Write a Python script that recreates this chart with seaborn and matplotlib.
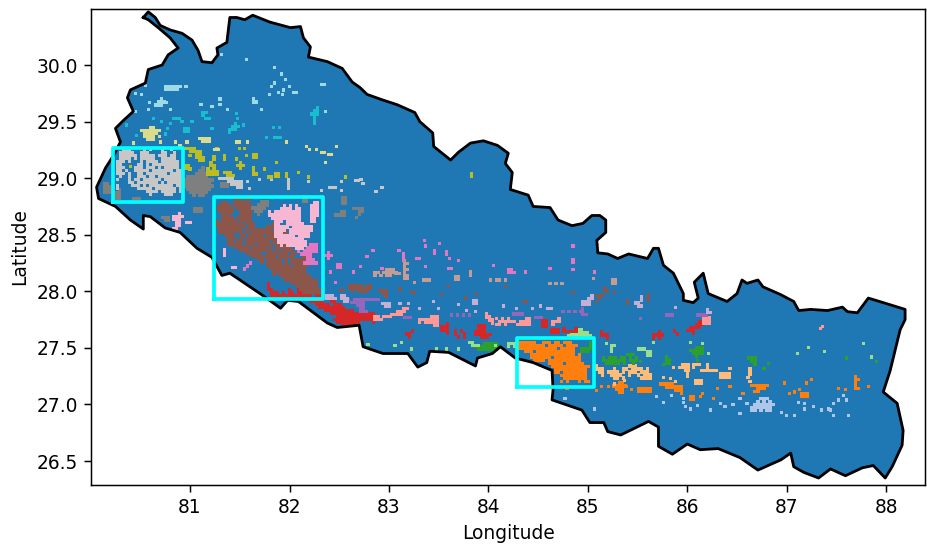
import matplotlib
matplotlib.use('Agg')
import pandas as pd
import matplotlib.pyplot as plt
import seaborn as sns

border_lon = [80.53, 80.58, 80.65, 80.70, 80.80, 80.92, 81.02, 81.08, 81.12, 81.22, 81.28, 81.27, 81.37, 81.40, 81.47,
              81.55, 81.63, 81.80, 82.01, 82.11, 82.14, 82.21, 82.19, 82.38, 82.53, 82.63, 82.71, 82.78, 82.94, 83.08,
              83.26, 83.31, 83.44, 83.45, 83.62, 83.70, 83.82, 83.95, 84.09, 84.20, 84.17, 84.24, 84.22, 84.40, 84.45,
              84.62, 84.70, 84.84, 84.95, 85.04, 85.12, 85.18, 85.18, 85.09, 85.10, 85.20, 85.30, 85.41, 85.60, 85.66,
              85.71, 85.76, 85.86, 85.96, 85.96, 86.06, 86.11, 86.07, 86.16, 86.21, 86.40, 86.50, 86.55, 86.60, 86.71,
              86.76, 86.94, 87.07, 87.12, 87.24, 87.41, 87.56, 87.61, 87.71, 87.82, 87.97, 88.19, 88.19, 88.14, 88.04,
              87.97, 88.11, 88.17, 88.16, 88.06, 87.99, 87.87, 87.76, 87.59, 87.44, 87.32, 87.17, 87.07, 87.04, 86.94,
              86.71, 86.53, 86.31, 86.13, 86.00, 85.85, 85.71, 85.71, 85.61, 85.33, 85.20, 85.16, 85.02, 84.94, 84.64,
              84.65, 84.64, 84.45, 84.27, 84.12, 84.04, 83.89, 83.87, 83.60, 83.41, 83.38, 83.29, 83.19, 82.94, 82.74,
              82.70, 82.48, 82.38, 82.09, 81.98, 81.91, 81.72, 81.45, 81.40, 81.32, 81.22, 81.07, 80.90, 80.75, 80.60,
              80.53, 80.53, 80.40, 80.25, 80.08, 80.06, 80.15, 80.23, 80.30, 80.25, 80.33, 80.43, 80.37, 80.40, 80.55,
              80.58, 80.72, 80.78, 80.88, 80.80, 80.68, 80.58, 80.53]
border_lat = [30.42, 30.47, 30.42, 30.35, 30.31, 30.28, 30.22, 30.13, 30.03, 30.02, 30.09, 30.15, 30.20, 30.42, 30.42,
              30.40, 30.44, 30.38, 30.33, 30.34, 30.24, 30.16, 30.07, 30.03, 29.97, 29.85, 29.80, 29.74, 29.69, 29.65,
              29.58, 29.50, 29.40, 29.28, 29.16, 29.23, 29.31, 29.33, 29.29, 29.22, 29.13, 29.05, 28.90, 28.85, 28.75,
              28.74, 28.63, 28.58, 28.60, 28.67, 28.67, 28.63, 28.52, 28.45, 28.34, 28.33, 28.29, 28.33, 28.29, 28.38,
              28.38, 28.23, 28.16, 27.98, 27.92, 27.90, 27.94, 28.08, 28.16, 27.98, 27.91, 27.98, 28.10, 28.07, 28.10,
              28.04, 27.97, 27.91, 27.83, 27.84, 27.83, 27.86, 27.82, 27.81, 27.94, 27.90, 27.84, 27.75, 27.66, 27.30,
              27.11, 27.01, 26.77, 26.64, 26.45, 26.35, 26.46, 26.44, 26.37, 26.43, 26.35, 26.40, 26.45, 26.57, 26.51,
              26.42, 26.53, 26.61, 26.60, 26.65, 26.56, 26.63, 26.80, 26.85, 26.73, 26.76, 26.84, 26.84, 26.95, 27.04,
              27.13, 27.30, 27.37, 27.41, 27.51, 27.45, 27.41, 27.34, 27.46, 27.47, 27.37, 27.33, 27.45, 27.45, 27.51,
              27.70, 27.68, 27.72, 27.91, 27.92, 27.85, 27.97, 28.13, 28.16, 28.14, 28.30, 28.38, 28.52, 28.56, 28.66,
              28.67, 28.55, 28.63, 28.75, 28.82, 28.92, 29.09, 29.20, 29.32, 29.44, 29.51, 29.59, 29.71, 29.78, 29.84,
              29.96, 30.00, 30.09, 30.15, 30.24, 30.33, 30.40, 30.42]

# Boxes: lon left, lon right, lat bottom, lat top
boxes = [(80.23, 80.93, 28.79, 29.27), (81.24, 82.34, 27.93, 28.83), (84.29, 85.06, 27.15, 27.59)]

# Cell patches: (lon of first column, lat of first row, rows of the raster)
silver_main = [(80.27, 29.25, [
    "..###....#.#...#..#...",
    ".#####..###....##..#..",
    ".######.#####.###.##..",
    ".####.#.#####..#####..",
    "###.#...#.####.######.",
    "##.....##.#.#########.",
    "###...###.###.#.#####.",
    "##.#..#####.#######.##",
    "###.#..##.#######.####",
    ".#..#..###.##.########",
    "#...#.##.######.######",
    "....##.#######.#.#####",
    "#....###.#.########.##",
    "#......#####.#######.#",
    "..........####.#####.#",
    "...........#....###...",
]), (81.30, 29.00, ["#####...", "...#####", "....####", "......##"]),
    (81.99, 28.99, ["#", "#", "#", "#"]), (82.40, 28.92, ["###"]), (82.66, 28.98, ["##"])]
silver_cells = [(81.70, 28.99), (81.58, 28.97), (81.60, 28.91), (81.82, 28.99), (82.19, 28.97), (82.32, 28.89),
                (82.72, 28.99), (82.93, 28.92), (82.87, 28.88), (82.52, 28.97), (82.52, 28.89), (82.74, 28.95)]

gray_main = [(80.95, 29.09, [
    "......#...",
    ".....##.#.",
    "....####..",
    ".#######..",
    "##########",
    "#########.",
    "##########",
    ".########.",
    "..######..",
    "...#.##...",
]), (81.63, 28.79, ["...###", "..####", "#####.", ".###..", "..#..."]),
    (82.46, 28.70, ["..##", "####"]), (82.64, 28.73, ["####", "..##", "..#.", ".#.."]),
    (82.53, 28.83, ["##", "##", "##"]), (80.14, 28.95, ["##", "###", "###.", "####"]),
    (80.26, 28.90, [".#", "##", "##", "##"]), (80.43, 28.82, ["###", "#.."]), (81.32, 28.95, ["###", "###"]),
    (81.05, 28.73, ["###", "###"]), (80.72, 28.65, ["###", ".##"]), (82.14, 28.82, ["##", "##"])]

brown_main = [(81.27, 28.81, [
    "......###.##.......................",
    "..##..#####........................",
    ".####.######.......................",
    "######.#####.......................",
    ".#####..####.......................",
    "..###...####.......................",
    "..####.#####.......................",
    "#.#####.####.......................",
    "#########.###......##..............",
    "##########.##....#####.............",
    ".########.#########.###............",
    ".######.#.#.#########.##...........",
    "...###..##.#####.#######...........",
    "....###.#.###########.###..........",
    "....##.##.########.######..........",
    "....#####.###.#####.#####..........",
    "......#####.#####.#.#####..........",
    "........###########.#.####.........",
    "..........#####..#######.##........",
    "............########.#####...##....",
    "..............##.#####.#.#####.....",
    "...............#.#####.#.######....",
    ".................########.#####....",
    "..................############.....",
    "...................###########.....",
    "...................#.##########....",
    "......................##########...",
    ".......................###########.",
    ".........................#########.",
    "...........................#######.",
    "............................#######",
    ".............................######",
]), (82.60, 28.05, ["#####.##", "########", ".#.####."]), (82.91, 28.01, ["###", ".##", "..#"]),
    (82.51, 28.01, ["##"]), (83.23, 27.99, ["##"]), (84.35, 27.91, ["##"]), (85.09, 27.96, ["###", ".#.", "#.."]),
    (85.61, 27.97, ["#", "#", "#"]), (85.40, 27.92, ["#", "#"]), (85.17, 28.03, ["#", "##"])]
brown_cells = [(83.53, 27.97), (83.60, 28.05), (83.77, 27.94), (83.88, 27.98), (84.17, 28.04), (84.85, 27.99),
               (85.27, 27.99), (83.11, 28.02)]

pink_main = [(81.80, 28.78, [
    "...............##",
    ".....#.#.#....###",
    "....####.##...###",
    "#.#########...###",
    "###########...###",
    ".##########...##.",
    "..###.#####...##.",
    "..##..######.....",
    "..#####.#######..",
    "..####.########..",
    "..###..#######...",
    "..#######.####...",
    "...#########.....",
    "...##########....",
    "....#.#######....",
    ".........###.....",
]), (80.83, 28.69, ["..#.", "####", "###.", ".##.", ".##.", "##.."]), (80.97, 28.61, ["##"]),
    (81.35, 28.37, ["#", "#", "#"]), (81.43, 28.21, ["##"])]

magenta_main = [(82.09, 28.41, [
    "....###",
    "...####",
    "#.#####",
    ".####..",
    "...##..",
    "...###.",
    "..#####",
]), (81.55, 28.25, ["..#", ".#.", "#.."]), (82.36, 28.34, [".#.", "###", ".#."]), (82.48, 28.24, ["##", "##"]),
    (83.15, 28.33, ["#", "#", "#"]), (84.20, 28.19, ["##", "###"]), (83.58, 28.35, ["#", "#"]),
    (83.46, 28.36, ["#", "#"]), (83.28, 28.29, ["##"]), (83.60, 28.20, ["##"]), (84.85, 28.28, ["#", "#"])]
magenta_cells = [(83.37, 28.40), (83.51, 28.42), (83.36, 28.45), (82.71, 28.22), (82.78, 28.31), (82.84, 28.36),
                 (83.10, 28.36), (83.37, 28.22), (83.70, 28.27), (83.61, 28.29), (84.05, 28.23), (84.85, 28.40),
                 (84.85, 28.19), (85.07, 28.17), (84.62, 28.20), (84.37, 28.17), (82.41, 28.17), (82.64, 28.17),
                 (82.46, 28.08), (82.93, 28.20)]

red_main = [(81.79, 28.07, [
    "#...................................",
    "#...................................",
    "##.....#..#.........................",
    ".###.#.##.###.###...................",
    ".##############.##..................",
    "....................................",
    "..............#####..##.............",
    "................#####.###...........",
    ".................#########..........",
    "...................##########.......",
    ".....................###############",
    ".......................#############",
    "......................##############",
    ".......................########....#",
    ".........................####.......",
]), (83.18, 27.65, ["..#", "##.", ".#."]), (83.53, 27.71, ["..#", "###", "###", "..#"]),
    (83.67, 27.65, ["#.#.", "#..#", ".#.#"]), (83.87, 27.70, [".###..", ".###..", "####..", "######", "..###."]),
    (84.55, 27.74, ["##", "##", "##"]), (84.64, 27.66, ["###", "###"]), (84.76, 27.67, ["#...#", "#####"]),
    (85.14, 27.64, ["#..", "###", "..#"]), (85.66, 27.64, ["..#.", "####", "#.#."]), (85.87, 27.65, ["#.", ".#"]),
    (86.00, 27.73, ["....##", "...###", ".####.", "###...", "..#..."])]

orange_main = [(84.31, 27.55, [
    "######..###.##.###......",
    "#########.#####.####....",
    "#############.#####.....",
    "..###.#############.....",
    "....###############.#...",
    "....#######.#########...",
    ".....####.###########...",
    "..........#####.######..",
    "...........#############",
    "............###########.",
    "............##.########.",
    "..............#########.",
    "...............########.",
    "..............#.#...#.##",
]), (85.26, 27.19, ["..##.", "#####", ".###.", "..##."]), (85.51, 27.14, ["#####", "#####"]),
    (85.73, 27.18, ["#####...", "..######", ".....###", ".......#"]), (86.65, 27.17, ["######", "..###.", ".##..."]),
    (87.15, 27.10, ["###", "###"]), (87.69, 27.25, ["#.", "##", "#.", "#.", "##"]), (86.03, 27.07, ["##", "##"])]
orange_cells = [(85.09, 27.12), (85.14, 27.16), (85.21, 27.16), (85.39, 27.16), (85.44, 27.13), (86.13, 27.07),
                (86.15, 27.10), (86.26, 27.05), (86.30, 27.14), (86.43, 27.16), (86.56, 27.10), (86.98, 27.19),
                (87.03, 27.10), (87.08, 27.11), (87.13, 27.13), (87.52, 27.14), (87.59, 27.13), (87.82, 27.16),
                (87.25, 27.22), (87.20, 27.19), (84.79, 27.14)]

peach_main = [(85.09, 27.34, [
    "#..........###......",
    "###...#..##.####.#..",
    ".##.####.#.###.###..",
    "..#..####..#..#.###.",
    "......##.#.....####.",
]), (85.86, 27.35, ["...###", "#.####", "....##"]), (86.00, 27.30, ["#", "#", "#"]), (86.06, 27.35, ["###", "#.."]),
    (86.14, 27.35, ["..#", "..#", "###"]), (86.23, 27.30, ["###"]), (86.33, 27.27, ["####", "####"]),
    (86.08, 27.21, ["###", "###"]), (86.63, 27.32, ["#", "#", "#"])]
peach_cells = [(86.43, 27.32), (86.61, 27.24), (86.63, 27.20), (85.83, 27.23), (85.76, 27.24), (85.27, 27.18),
               (85.37, 27.21), (85.88, 27.20)]

green_main = [(85.16, 27.44, ["........###.", "#.###.##.#.#", "########.###", ".#####.#..#."]),
              (86.03, 27.50, ["..###", "#####", ".####", "..#.."]), (84.94, 27.55, ["...#", "...#", "####", "###."]),
              (86.62, 27.41, ["###", ".##", "..#"]), (85.79, 27.42, ["#", "##", "##"]),
              (83.87, 27.54, ["...#####.", "#########", ".#######."])]
green_cells = [(85.53, 27.38), (85.76, 27.35), (86.10, 27.39), (86.82, 27.36), (86.77, 27.32), (87.60, 27.41),
               (87.90, 27.38)]

mint_main = [(84.81, 27.66, ["...##...", ".######.", "########"]), (85.24, 27.52, ["##", "#.", "#."]),
             (85.51, 27.49, ["###..", "...##", "...##"]), (83.81, 27.55, ["##..", ".###"]),
             (84.20, 27.54, ["###", "#.#"])]
mint_cells = [(86.03, 27.55), (86.15, 27.54), (85.66, 27.55), (86.21, 27.45), (87.11, 27.45), (87.22, 27.50),
              (87.38, 27.47), (87.77, 27.54), (87.85, 27.42), (85.19, 27.54), (82.79, 27.53), (83.06, 27.52),
              (83.13, 27.55), (83.23, 27.49), (83.48, 27.49), (83.58, 27.49), (83.70, 27.49), (84.07, 27.52)]

salmon_main = [(82.86, 27.78, ["##.###", "###..."]), (83.03, 27.85, ["....##", "..###.", "####.."]),
               (83.31, 27.78, ["....###", "#######", "#.#####", ".....##"]), (83.98, 27.80, ["#..", "##.", ".##", "..#"]),
               (84.08, 27.76, ["#.#.#.....##", ".######.####", "##.#...#####"]), (84.65, 27.76, ["..#", "###", "#.."]),
               (86.16, 27.77, ["###", "###", "###"])]
salmon_cells = [(87.34, 27.67), (87.36, 27.69)]

purple_main = [(82.59, 27.93, ["#.#########.", ".#####......", "...###......", "....##......", "....###....."]),
               (83.16, 27.77, ["###"]), (83.63, 27.79, ["#.#.#.#"]), (84.25, 27.80, ["####"]), (84.47, 27.77, ["###"]),
               (84.95, 27.85, ["#.", "#.", "##"]), (85.79, 27.79, ["###"]), (86.10, 27.79, ["####"]),
               (84.75, 27.82, ["#.#.#.#"])]
purple_cells = [(85.53, 27.76)]

lavender_main = [(82.37, 27.96, ["###..##.", "####.###", "......##"]), (82.94, 27.89, ["###", ".##"]),
                 (83.85, 27.92, ["##", "##"]), (84.95, 27.96, ["...#", "..##", "###.", "###."]),
                 (86.20, 27.84, ["#.", "##"]), (85.48, 27.95, ["..#", "..#", "##.", ".##"]), (84.60, 27.85, ["##"])]
lavender_cells = [(83.11, 27.89), (83.20, 27.89), (83.31, 27.85), (83.45, 27.91), (83.50, 27.85), (83.70, 27.88),
                  (83.78, 27.83), (83.87, 27.82), (84.15, 27.87), (84.28, 27.85), (84.44, 27.85), (84.52, 27.87),
                  (85.88, 27.86)]

tan_main = [(82.86, 28.19, ["....###.", "##.#####", "#.#.##.."]), (83.16, 28.27, ["#.", "##", "#.", "##", "#.", "##", "##"]),
            (83.35, 28.10, ["###"]), (84.02, 28.10, ["#.##.#"]), (83.67, 28.13, ["##", "##"]), (83.82, 28.17, ["#", "#"]),
            (85.25, 28.10, ["##", "##"]), (84.62, 28.07, ["#.#.#"]), (83.07, 28.16, ["##"])]
tan_cells = [(85.06, 28.11), (83.26, 28.08)]

olive_main = [(80.95, 29.26, ["####...", "..####.", "....##.", "....###", ".....##"]),
              (81.18, 29.19, ["..#", "..#", ".#.", ".##", "#.#", "####", "####"]), (81.35, 29.05, ["###.", ".###"]),
              (80.95, 29.11, ["##", "##"]), (81.64, 29.09, ["#.", "#.", "##"]), (81.79, 29.01, ["##"]),
              (81.97, 29.04, ["#", "#"]), (81.48, 29.14, [".#.", "###", ".#."]), (81.64, 29.21, ["##", "##"]),
              (81.86, 29.04, ["##", "##"]), (83.83, 29.04, ["#", "#"])]
olive_cells = [(81.50, 29.26), (81.55, 29.26), (81.35, 29.20), (81.35, 29.17), (81.47, 29.17), (81.57, 29.20),
               (81.87, 29.14), (81.75, 29.08), (82.09, 29.05), (82.19, 29.01), (82.56, 29.01), (81.00, 29.20),
               (81.00, 29.08), (80.41, 29.26), (80.40, 29.10), (81.27, 29.26)]

khaki_main = [(80.48, 29.45, ["....##..", ".#######", "..#####.", "..####.#", "...###.."]),
              (81.10, 29.35, ["####", ".###"]), (81.47, 29.32, ["##"]), (82.17, 29.28, ["#.", ".#"]),
              (82.32, 29.23, ["##"]), (82.39, 29.21, ["##"]), (81.25, 29.25, ["##"])]
khaki_cells = [(80.70, 29.32), (80.85, 29.32), (80.90, 29.29), (80.97, 29.32), (81.58, 29.32), (81.97, 29.32),
               (82.27, 29.25), (82.47, 29.28), (82.36, 29.14), (80.43, 29.31)]

cyan_main = [(81.40, 29.48, ["..#.", ".###", "###.", "#..."]), (81.13, 29.58, ["##.", "#..", ".##"]),
             (82.22, 29.62, ["..#", ".##", "###", ".#.", ".#.", ".#."]), (80.95, 29.44, ["##", "##"]),
             (80.83, 29.53, ["###"]), (81.85, 29.36, ["###"])]
cyan_cells = [(80.80, 29.48), (80.77, 29.44), (80.75, 29.39), (80.71, 29.50), (81.02, 29.50), (81.22, 29.44),
              (81.48, 29.53), (81.54, 29.47), (81.47, 29.57), (81.84, 29.45), (81.90, 29.45), (81.77, 29.36),
              (80.36, 29.47), (80.46, 29.38), (80.63, 29.53), (80.92, 29.50)]

sky_main = [(80.75, 29.81, ["#####", "#####"]), (80.65, 29.70, ["..#.", ".###", "###."]), (81.64, 29.70, ["#.", "##"]),
            (82.32, 29.83, ["##"]), (82.04, 29.76, ["##"])]
sky_cells = [(81.32, 30.09), (81.57, 30.05), (81.85, 29.98), (81.92, 29.92), (81.96, 29.87), (81.85, 29.84),
             (81.82, 29.81), (81.80, 29.74), (81.89, 29.76), (81.94, 29.78), (81.93, 29.74), (82.00, 29.81),
             (80.90, 29.81), (80.96, 29.81), (80.51, 29.74), (80.45, 29.75), (80.55, 29.82), (80.59, 29.67),
             (80.76, 29.67), (80.80, 29.61), (80.58, 29.61), (80.45, 29.59), (81.11, 29.65), (81.22, 29.63),
             (81.30, 29.70), (81.30, 29.65), (81.38, 29.61), (81.72, 29.61), (82.36, 29.59)]

steel_main = [(86.65, 27.05, ["...###..", "..#.#.#.", ".#######", "#######.", "##.#.##."])]
steel_cells = [(85.69, 27.07), (85.76, 27.02), (85.84, 27.08), (85.96, 27.05), (85.96, 27.02), (85.98, 26.98),
               (86.03, 26.96), (86.10, 26.99), (86.23, 26.95), (86.33, 27.01), (86.38, 26.98), (86.46, 27.00),
               (86.53, 27.05), (86.53, 26.92), (86.60, 27.01), (86.95, 26.93), (87.00, 26.90), (87.08, 26.90),
               (87.12, 27.02), (87.18, 27.01), (87.18, 26.96), (87.27, 26.98), (87.35, 26.95), (87.42, 26.96),
               (87.47, 27.01), (87.52, 27.04), (87.57, 27.08), (87.60, 27.04), (87.62, 26.90), (87.47, 26.90),
               (87.44, 26.95), (85.07, 26.96), (84.77, 27.05)]

# Raster step in degrees
lon_step = 0.0302
lat_step = 0.0265

tab20 = sns.color_palette('tab20')
clusters = {
    'steel': (1, steel_main, steel_cells), 'orange': (2, orange_main, orange_cells),
    'peach': (3, peach_main, peach_cells), 'green': (4, green_main, green_cells),
    'mint': (5, mint_main, mint_cells), 'red': (6, red_main, []),
    'salmon': (7, salmon_main, salmon_cells), 'purple': (8, purple_main, purple_cells),
    'lavender': (9, lavender_main, lavender_cells), 'brown': (10, brown_main, brown_cells),
    'tan': (11, tan_main, tan_cells), 'magenta': (12, magenta_main, magenta_cells),
    'pink': (13, pink_main, []), 'gray': (14, gray_main, []),
    'silver': (15, silver_main, silver_cells), 'olive': (16, olive_main, olive_cells),
    'khaki': (17, khaki_main, khaki_cells), 'cyan': (18, cyan_main, cyan_cells),
    'sky': (19, sky_main, sky_cells),
}

# Expand everything into one table for seaborn
records = []
for name, (idx, patches, cells) in clusters.items():
    for lon0, lat0, rows in patches:
        for r, row in enumerate(rows):
            for c, ch in enumerate(row):
                if ch == '#':
                    records.append((lon0 + c * lon_step, lat0 - r * lat_step, name))
    for lon, lat in cells:
        records.append((lon, lat, name))
df = pd.DataFrame(records, columns=['lon', 'lat', 'cluster'])
palette = {name: tab20[v[0]] for name, v in clusters.items()}

dpi = 134
fig = plt.figure(figsize=(927 / dpi, 546 / dpi), dpi=dpi)
ax = fig.add_axes([91 / 927, 1 - 485 / 546, (925 - 91) / 927, (485 - 9) / 546])

ax.fill(border_lon, border_lat, color=tab20[0], lw=0, zorder=1)
sns.scatterplot(data=df, x='lon', y='lat', hue='cluster', palette=palette, marker='s', s=3.0, linewidth=0,
                legend=False, ax=ax, zorder=2)
ax.plot(border_lon + border_lon[:1], border_lat + border_lat[:1], color='black', lw=1.5, zorder=3)
for x0, x1, y0, y1 in boxes:
    ax.plot([x0, x1, x1, x0, x0], [y0, y0, y1, y1, y0], color='cyan', lw=2, zorder=4)

ax.set_xlim(80.004, 88.39)
ax.set_ylim(26.288, 30.495)
ax.set_xlabel('Longitude')
ax.set_ylabel('Latitude')
fig.savefig('out.png', dpi=dpi)
